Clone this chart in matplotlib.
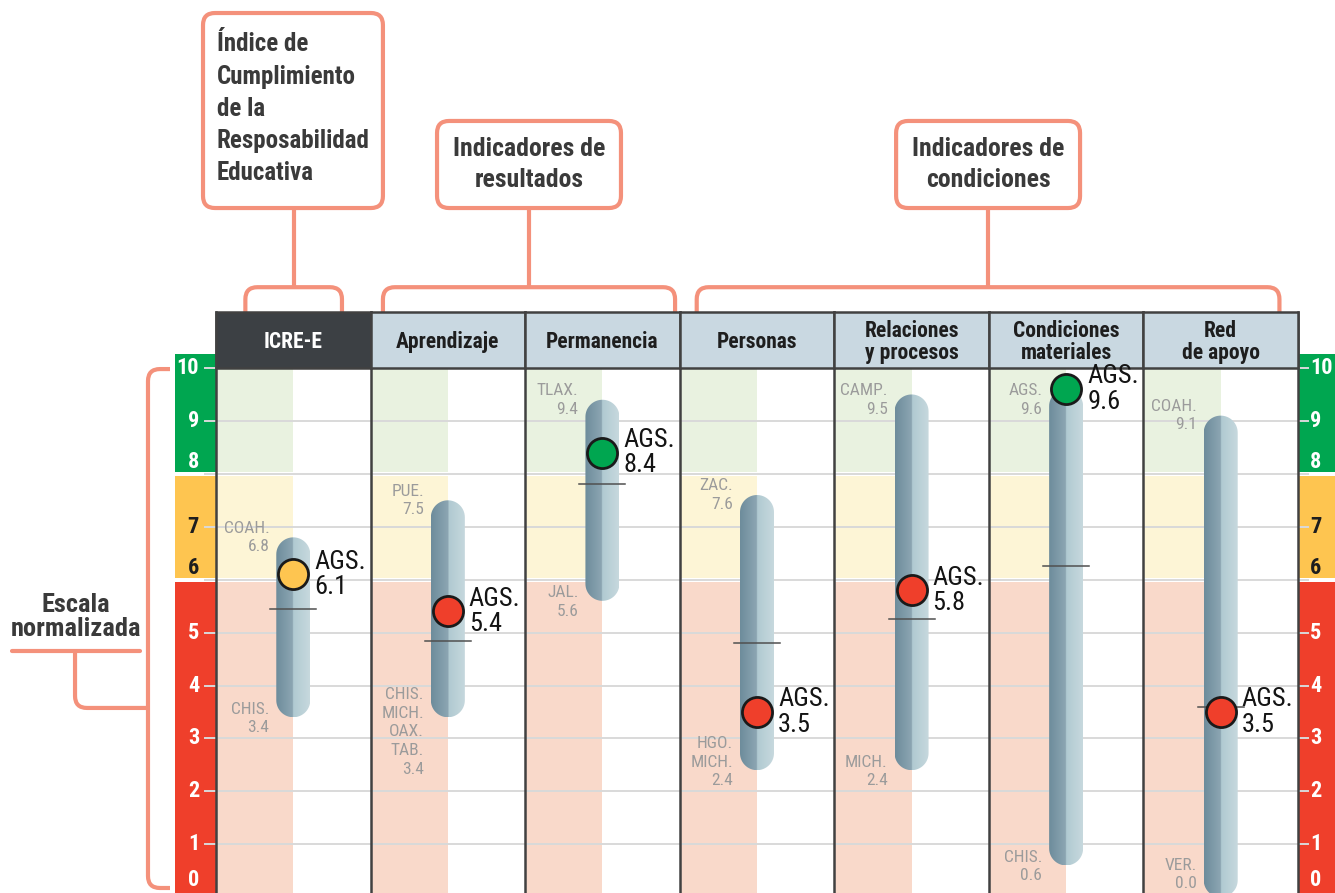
import numpy as np
import matplotlib
matplotlib.use('Agg')
import matplotlib.pyplot as plt
from matplotlib.patches import Rectangle, FancyBboxPatch, PathPatch
from matplotlib.path import Path

plt.rcParams['font.family'] = ['Roboto Condensed', 'Liberation Sans Narrow', 'Roboto', 'DejaVu Sans']

# ---- data ----
columns = ['ICRE-E', 'Aprendizaje', 'Permanencia', 'Personas',
           'Relaciones\ny procesos', 'Condiciones\nmateriales', 'Red\nde apoyo']
ags_values = [6.1, 5.4, 8.4, 3.5, 5.8, 9.6, 3.5]
max_values = [6.8, 7.5, 9.4, 7.6, 9.5, 9.6, 9.1]
max_states = ['COAH.', 'PUE.', 'TLAX.', 'ZAC.', 'CAMP.', 'AGS.', 'COAH.']
min_values = [3.4, 3.4, 5.6, 2.4, 2.4, 0.6, 0.0]
min_states = ['CHIS.', 'CHIS.\nMICH.\nOAX.\nTAB.', 'JAL.', 'HGO.\nMICH.', 'MICH.', 'CHIS.', 'VER.']
national_avg = [5.45, 4.85, 7.8, 4.8, 5.25, 6.25, 3.6]
scale_ticks = list(range(0, 11))

group_titles = ['Índice de\nCumplimiento\nde la\nResposabilidad\nEducativa',
                'Indicadores de\nresultados',
                'Indicadores de\ncondiciones']

# ---- colours ----
SALMON = '#f4917b'
GREEN, YELLOW, RED = '#00a650', '#fec550', '#ef3f2b'
LGREEN, LYELLOW, LRED = '#e9f2e0', '#fdf5d6', '#f9d9ca'
HEAD_DARK, HEAD_LIGHT = '#3c4044', '#c9d8e1'
GRID = '#d9d9d9'
BORDER = '#414141'
TXT = '#3a3a3a'
GRAY_TXT = '#9b9b9b'

W, H = 1335, 893
COL_PX = 154.57    # pixels per column
UNIT_PX = 52.92    # pixels per scale unit
X0_PX = 216        # left edge of the first column
Y0_PX = 897.2      # pixel row of value 0


def sx(p):
    return p / COL_PX


def sy(p):
    return p / UNIT_PX


ASPECT = COL_PX / UNIT_PX

fig = plt.figure(figsize=(W / 100, H / 100), dpi=100)
ax = fig.add_axes([0, 0, 1, 1])
ax.axis('off')
XMIN, XMAX = -X0_PX / COL_PX, (W - X0_PX) / COL_PX
YMIN, YMAX = (Y0_PX - H) / UNIT_PX, Y0_PX / UNIT_PX

ncol = len(columns)
zones = [(8.04, 10.0, GREEN, LGREEN), (6.04, 7.96, YELLOW, LYELLOW), (YMIN, 5.96, RED, LRED)]


def zone_color(v):
    if v >= 8:
        return GREEN
    if v >= 6:
        return YELLOW
    return RED


# shaded left half of each column
for i in range(ncol):
    for lo, hi, _, light in zones:
        ax.add_patch(Rectangle((i, lo), 0.5, hi - lo, facecolor=light, edgecolor='none', zorder=1))

# colour scales on both sides
for lo, hi, col, _ in zones:
    top = 10.26 if hi == 10.0 else hi
    ax.add_patch(Rectangle((sx(-41), lo), sx(41), top - lo, facecolor=col, edgecolor='none', zorder=1))
    ax.add_patch(Rectangle((ncol, lo), XMAX - ncol, top - lo, facecolor=col, edgecolor='none', zorder=1))

# grid lines / ticks
for v in scale_ticks[1:]:
    ax.plot([sx(-11), ncol + sx(10)], [v, v], color=GRID, lw=1.4, zorder=1.5)

for v in scale_ticks:
    if v == 0:
        ylab = 0.33
    elif v in (6, 8):
        ylab = v + 0.22
    else:
        ylab = v
    col = '#1e1e1e' if 6 <= v < 8 else 'white'
    ax.text(sx(-17), ylab, str(v), ha='right', va='center', fontsize=16, fontweight='bold', color=col, zorder=2)
    ax.text(ncol + sx(12), ylab, str(v), ha='left', va='center', fontsize=16, fontweight='bold', color=col, zorder=2)

# column borders
for i in range(ncol + 1):
    ax.plot([i, i], [YMIN, 11.055], color=BORDER, lw=1.8, zorder=2.5)

# header cells
for i, name in enumerate(columns):
    fc = HEAD_DARK if i == 0 else HEAD_LIGHT
    tc = 'white' if i == 0 else '#1e1e1e'
    ax.add_patch(Rectangle((i, 10), 1, 1.055, facecolor=fc, edgecolor=BORDER, lw=1.8, zorder=4))
    ax.text(i + 0.5, 10.50, name, ha='center', va='center', fontsize=15.5, fontweight='bold',
            color=tc, linespacing=1.0, zorder=5)

# gradient for the range capsules
grad = np.zeros((1, 64, 3))
left = np.linspace(0, 1, 32)[:, None]
grad[0, :32] = (1 - left) * np.array([0.43, 0.55, 0.61]) + left * np.array([0.55, 0.65, 0.70])
grad[0, 32:] = (1 - left) * np.array([0.69, 0.79, 0.82]) + left * np.array([0.78, 0.85, 0.87])

hw, ry = sx(17), sy(17)
t = np.linspace(0, np.pi, 30)
for i in range(ncol):
    c = i + 0.5
    lo, hi = min_values[i], max_values[i]
    top = np.column_stack([c + hw * np.cos(t), hi - ry + ry * np.sin(t)])
    bot = np.column_stack([c + hw * np.cos(t + np.pi), lo + ry + ry * np.sin(t + np.pi)])
    verts = np.vstack([top, bot, top[:1]])
    patch = PathPatch(Path(verts), facecolor='none', edgecolor='none', zorder=3)
    ax.add_patch(patch)
    im = ax.imshow(grad, extent=[c - hw, c + hw, lo, hi], aspect='auto', zorder=3,
                   interpolation='bilinear')
    im.set_clip_path(patch)

    # national average
    ax.plot([c - sx(23), c + sx(23)], [national_avg[i], national_avg[i]], color='#505050', lw=1.1, zorder=4)

    # Aguascalientes
    v = ags_values[i]
    ax.scatter([c], [v], s=470, facecolor=zone_color(v), edgecolor='#1a1a1a', linewidth=2, zorder=6)
    ax.text(c + sx(21), v, f'AGS.\n{v:.1f}', ha='left', va='center', fontsize=19,
            color='#141414', linespacing=1.08, zorder=6)

    # best and worst states
    ax.text(c - sx(24), min(hi, 9.4), f'{max_states[i]}\n{hi:.1f}', ha='right', va='center',
            fontsize=12.5, color=GRAY_TXT, linespacing=1.3, zorder=6)
    nlines = min_states[i].count('\n') + 2
    txt = f'{min_states[i]}\n{lo:.1f}'
    if nlines > 3:
        ax.text(c - sx(24), lo + sy(30), txt, ha='right', va='top', fontsize=12.5,
                color=GRAY_TXT, linespacing=1.3, zorder=6)
    else:
        ax.text(c - sx(24), max(lo - sy(18), YMIN + 0.03), txt, ha='right', va='bottom', fontsize=12.5,
                color=GRAY_TXT, linespacing=1.3, zorder=6)

# ---- annotation boxes and brackets ----
R = sx(12)


def rbox(x0, y0, x1, y1, clip=None, fill='none', z=3):
    p = FancyBboxPatch((x0, y0), x1 - x0, y1 - y0, boxstyle=f'round,pad=0,rounding_size={R}',
                       mutation_aspect=ASPECT, facecolor=fill, edgecolor=SALMON, lw=3, zorder=z)
    ax.add_patch(p)
    if clip is not None:
        cx0, cy0, cx1, cy1 = clip
        p.set_clip_path(Rectangle((cx0, cy0), cx1 - cx0, cy1 - cy0, transform=ax.transData))
    return p


BR_TOP = 11.527
BOX_BOT = 13.023
groups = [(0.19, 0.815), (1.08, 2.97), (3.11, 6.88)]
boxes = [(-0.084, 1.080, 16.708), (1.43, 2.62, 14.668), (4.40, 5.59, 14.668)]

for (g0, g1), (b0, b1, btop), title in zip(groups, boxes, group_titles):
    rbox(g0, 10.6, g1, BR_TOP)
    gc = (g0 + g1) / 2
    ax.plot([gc, gc], [BR_TOP, BOX_BOT], color=SALMON, lw=3, zorder=3, solid_capstyle='butt')
    rbox(b0, BOX_BOT, b1, btop, fill='white', z=4)

ax.text(0.006, 14.90, group_titles[0], ha='left', va='center', fontsize=18, fontweight='bold',
        color=TXT, linespacing=1.43, zorder=5)
for k in (1, 2):
    b0, b1, btop = boxes[k]
    ax.text((b0 + b1) / 2, 13.845, group_titles[k], ha='center', va='center', fontsize=18.5,
            fontweight='bold', color=TXT, linespacing=1.4, zorder=5)

# left "Escala normalizada" bracket
rbox(-0.44, 0.174, -0.2, 9.98, clip=(-1.0, 0.0, -0.298, 10.5))
rbox(-0.912, 3.576, -0.3, 5.2, clip=(-1.0, 3.3, -0.44, 4.654))
ax.plot([-1.32, -0.49], [4.654, 4.654], color=SALMON, lw=3, solid_capstyle='round', zorder=3)
ax.text(-0.906, 5.30, 'Escala\nnormalizada', ha='center', va='center', fontsize=19,
        fontweight='bold', color=TXT, linespacing=1.0, zorder=5)

ax.set_xlim(XMIN, XMAX)
ax.set_ylim(YMIN, YMAX)
fig.savefig('out.png', dpi=100)
